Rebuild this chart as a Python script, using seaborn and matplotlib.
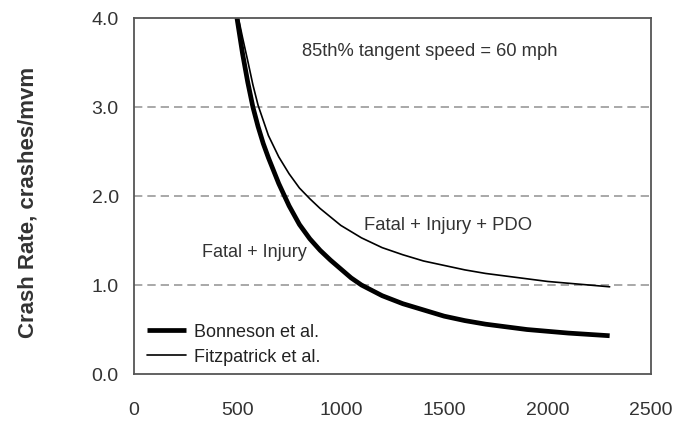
import pandas as pd
import matplotlib
matplotlib.use("Agg")
import matplotlib.pyplot as plt
import seaborn as sns

# Bonneson et al. (Fatal + Injury), thick curve
bonneson_x = [490, 498, 525, 550, 575, 600, 625, 650, 700, 750, 800, 850, 900, 950, 1000,
              1050, 1100, 1200, 1300, 1400, 1500, 1600, 1700, 1800, 1900, 2000, 2100, 2200, 2300]
bonneson_y = [4.13, 4.0, 3.6, 3.28, 3.0, 2.78, 2.59, 2.43, 2.14, 1.89, 1.68, 1.52, 1.39, 1.28, 1.18,
              1.08, 1.0, 0.88, 0.79, 0.72, 0.65, 0.60, 0.56, 0.53, 0.50, 0.48, 0.46, 0.445, 0.43]

# Fitzpatrick et al. (Fatal + Injury + PDO), thin curve
fitz_x = [497, 505, 525, 550, 575, 600, 650, 700, 750, 800, 850, 900, 1000, 1100, 1200,
          1300, 1400, 1500, 1600, 1700, 1800, 1900, 2000, 2100, 2200, 2300]
fitz_y = [4.12, 4.0, 3.78, 3.52, 3.25, 3.02, 2.68, 2.44, 2.25, 2.09, 1.97, 1.86, 1.67, 1.53, 1.42,
          1.34, 1.27, 1.22, 1.17, 1.13, 1.10, 1.07, 1.04, 1.02, 1.00, 0.98]

x_ticks = [0, 500, 1000, 1500, 2000, 2500]
y_ticks = [0.0, 1.0, 2.0, 3.0, 4.0]

sns.set_style("white")
plt.rcParams['font.family'] = ['Liberation Sans', 'DejaVu Sans']

df_b = pd.DataFrame({"x": bonneson_x, "y": bonneson_y})
df_f = pd.DataFrame({"x": fitz_x, "y": fitz_y})

fig = plt.figure(figsize=(6.86, 4.21), dpi=100)
ax = fig.add_axes([0.1953, 0.1116, 0.7537, 0.8456])

# dashed gridlines
for v in [1.0, 2.0, 3.0]:
    ax.axhline(v, color='#999999', lw=1.2, ls=(0, (5, 3)), zorder=0)

sns.lineplot(data=df_b, x="x", y="y", ax=ax, color='black', lw=3.4,
             label='Bonneson et al.', solid_capstyle='butt')
sns.lineplot(data=df_f, x="x", y="y", ax=ax, color='black', lw=1.2,
             label='Fitzpatrick et al.')

ax.set_xlim(0, 2500)
ax.set_ylim(0, 4.0)
ax.set_xticks(x_ticks)
ax.set_yticks(y_ticks)
ax.set_yticklabels([f"{v:.1f}" for v in y_ticks])
ax.tick_params(axis='x', direction='in', length=5, width=1, color='#555555',
               pad=20, labelsize=14, labelcolor='#333333')
ax.tick_params(axis='y', length=0, pad=11, labelsize=14, labelcolor='#333333')

for s in ax.spines.values():
    s.set_color('#555555')
    s.set_linewidth(1.3)

ax.set_xlabel('')
ax.set_ylabel('Crash Rate, crashes/mvm', fontsize=16, fontweight='bold', color='#333333')
ax.yaxis.set_label_coords(-0.184, 0.483)

ax.text(1430, 3.62, '85th% tangent speed = 60 mph', fontsize=13.2, color='#333333',
        ha='center', va='center')
ax.text(1520, 1.67, 'Fatal + Injury + PDO', fontsize=13.3, color='#333333',
        ha='center', va='center')
ax.text(580, 1.36, 'Fatal + Injury', fontsize=13, color='#333333',
        ha='center', va='center')

leg = ax.legend(loc='lower left', bbox_to_anchor=(0.0, -0.012), frameon=False,
                fontsize=13, handlelength=2.2, handletextpad=0.4, labelspacing=0.45,
                borderaxespad=0.3)
for t in leg.get_texts():
    t.set_color('#222222')

fig.savefig('out.png', dpi=100)
